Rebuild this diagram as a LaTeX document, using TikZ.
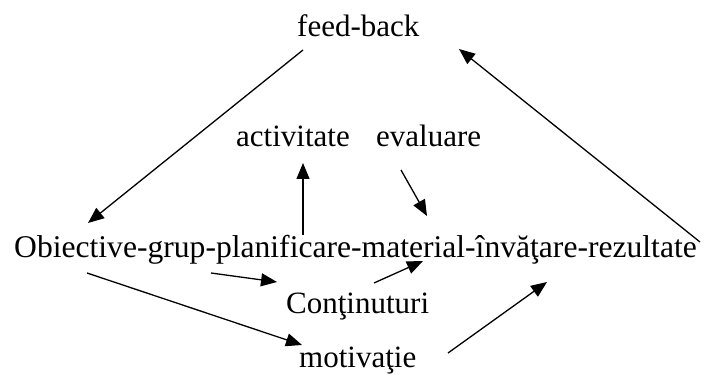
\documentclass[tikz,border=0pt]{standalone}
\usepackage{fontspec}
\setmainfont{Liberation Serif}
\usetikzlibrary{arrows.meta}
\begin{document}
\begin{tikzpicture}[
  x=1pt, y=-1pt,
  word/.style={inner sep=0pt, anchor=base west, font=\fontsize{31}{36}\selectfont},
  arr/.style={-{Triangle[length=16pt, width=13pt]}, line width=1.3pt}
]
\useasboundingbox (0,0) rectangle (707,374);

\node[word] (fb) at (297,37) {feed-back};
\node[word] (act) at (236,147) {activitate};
\node[word] (ev) at (376,147) {evaluare};
\node[word, font=\fontsize{31.6}{36}\selectfont] (obj) at (14,258) {Obiective-grup-planificare-material-învăţare-rezultate};
\node[word] (cont) at (286,313) {Conţinuturi};
\node[word] (mot) at (299,367) {motivaţie};

% free ends of the connectors
\coordinate (fb-out) at (303,50);
\coordinate (fb-in) at (459,49);
\coordinate (obj-in) at (88,223);
\coordinate (obj-out) at (700,242);
\coordinate (act-in) at (303,163);
\coordinate (act-out) at (303,235);
\coordinate (ev-out) at (401,170);
\coordinate (ev-in) at (427,216);
\coordinate (cont-a) at (211,273);
\coordinate (cont-b) at (277,282);
\coordinate (cont-c) at (374,283);
\coordinate (cont-d) at (423,261);
\coordinate (mot-a) at (87,273);
\coordinate (mot-b) at (302,345);
\coordinate (mot-c) at (448,353);
\coordinate (mot-d) at (547,282);

\draw[arr] (fb-out) -- (obj-in);
\draw[arr] (obj-out) -- (fb-in);
\draw[arr] (act-out) -- (act-in);
\draw[arr] (ev-out) -- (ev-in);
\draw[arr] (cont-a) -- (cont-b);
\draw[arr] (cont-c) -- (cont-d);
\draw[arr] (mot-a) -- (mot-b);
\draw[arr] (mot-c) -- (mot-d);
\end{tikzpicture}
\end{document}
